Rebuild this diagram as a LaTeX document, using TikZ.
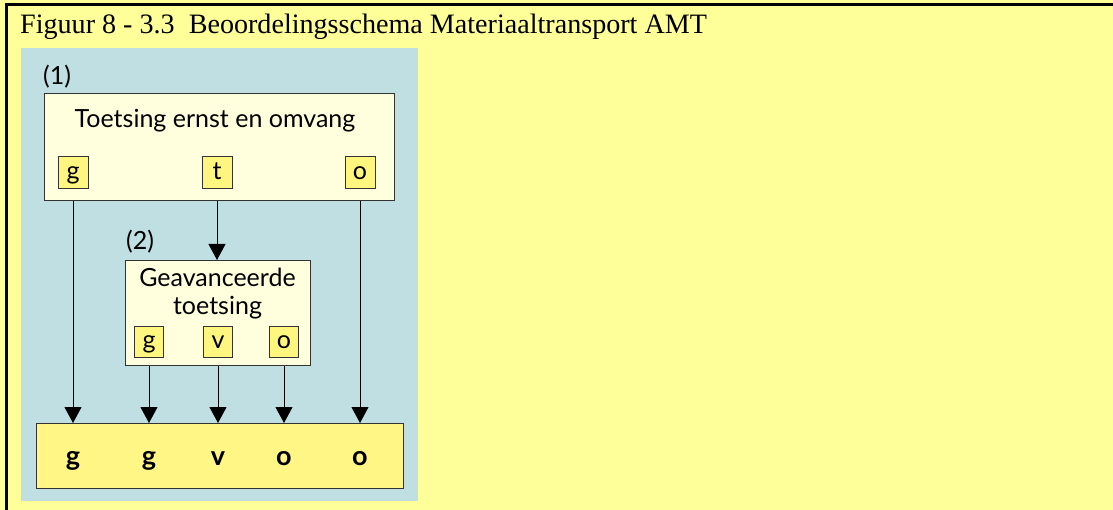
\documentclass[tikz,border=0pt]{standalone}
\usepackage{fontspec}
\setmainfont{Liberation Serif}
\newfontfamily\sansf{Lato}
\usetikzlibrary{arrows.meta}
\definecolor{bgyellow}{HTML}{FFFF99}
\definecolor{panelblue}{HTML}{C0DFE3}
\definecolor{boxfill}{HTML}{FFFFDD}
\definecolor{tagfill}{HTML}{FFF680}
\definecolor{resfill}{HTML}{FFF685}
\definecolor{boxline}{HTML}{333333}
\begin{document}
\begin{tikzpicture}[x=1pt,y=-1pt,
  panel/.style={draw=boxline, line width=1.2pt, fill=boxfill, inner sep=0pt, anchor=north west},
  tag/.style={draw=boxline, line width=1pt, fill=tagfill, minimum width=30pt, minimum height=32pt,
    inner sep=0pt, text height=18pt, text depth=4pt, font=\sansf\fontsize{25}{28}\selectfont},
  lbl/.style={inner sep=0pt, font=\sansf\fontsize{25}{28}\selectfont},
  res/.style={inner sep=0pt, anchor=base, font=\sansf\bfseries\fontsize{27}{29}\selectfont},
  conn/.style={line width=1pt, draw=black, -{Triangle[width=17pt,length=16pt]}},
  plainline/.style={line width=1pt, draw=black}
]
\useasboundingbox (0,0) rectangle (1113,510);
\fill[bgyellow] (0,0) rectangle (1113,510);
\fill[black] (5,3) rectangle (1113,6);
\fill[black] (5,3) rectangle (8,510);
\node[anchor=base west, inner sep=0pt, font=\fontsize{28.1}{30}\selectfont] (title) at (20,34)
  {Figuur 8 - 3.3\ \ Beoordelingsschema Materiaaltransport AMT};
\fill[panelblue] (21,48) rectangle (418,501);

% box 1
\node[lbl, anchor=west] (n1) at (43,77) {(1)};
\node[panel, minimum width=350pt, minimum height=107pt] (b1) at (44,93) {};
\node[lbl] (b1t) at (215,121) {Toetsing ernst en omvang};
\node[tag] (g1) at (73,173) {g};
\node[tag] (t1) at (217,173) {t};
\node[tag] (o1) at (360,173) {o};

% box 2
\node[lbl, anchor=west] (n2) at (126,242) {(2)};
\node[panel, minimum width=185pt, minimum height=105pt] (b2) at (125,260) {};
\node[lbl, align=center] (b2t) at (217.5,294) {Geavanceerde\\toetsing};
\node[tag, minimum width=29pt, minimum height=30pt, text height=17pt] (g2) at (149,342) {g};
\node[tag, minimum width=29pt, minimum height=30pt, text height=17pt] (v2) at (218,342) {v};
\node[tag, minimum width=29pt, minimum height=30pt, text height=17pt] (o2) at (284,342) {o};

% result box
\node[panel, fill=resfill, minimum width=367pt, minimum height=65pt] (bot) at (36,423) {};
\node[res] (r1) at (73,465) {g};
\node[res] (r2) at (149,465) {g};
\node[res] (r3) at (218,465) {v};
\node[res] (r4) at (284,465) {o};
\node[res] (r5) at (360,465) {o};

% connectors
\draw[conn] (g1 |- b1.south) -- (g1 |- bot.north);
\draw[conn] (t1 |- b1.south) -- (t1 |- b2.north);
\draw[conn] (o1 |- b1.south) -- (o1 |- bot.north);
\draw[conn] (g2 |- b2.south) -- (g2 |- bot.north);
\draw[conn] (v2 |- b2.south) -- (v2 |- bot.north);
\draw[conn] (o2 |- b2.south) -- (o2 |- bot.north);
\end{tikzpicture}
\end{document}
